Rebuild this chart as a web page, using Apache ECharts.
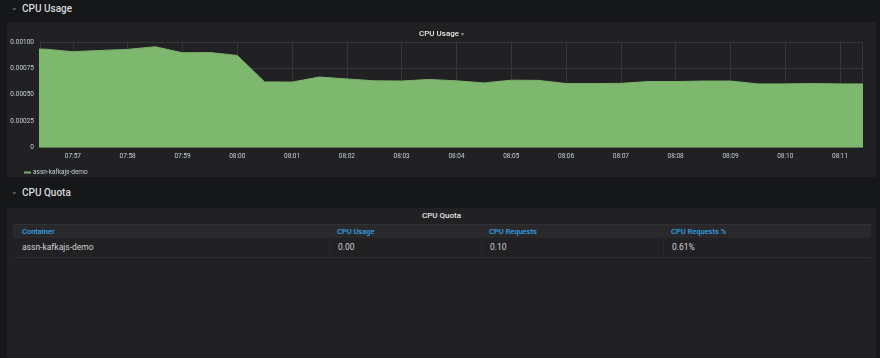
<!DOCTYPE html>
<html>
<head>
<meta charset="utf-8">
<script src="https://cdn.jsdelivr.net/npm/echarts@6/dist/echarts.min.js"></script>
<style>
  html, body { margin:0; padding:0; width:880px; height:358px; overflow:hidden; background:#161719; font-family: Roboto, "Helvetica Neue", Arial, sans-serif; }
  .row-hdr { position:absolute; left:7px; width:869px; color:#d8d9da; font-size:10px; font-weight:500; }
  .row-hdr .chev { display:inline-block; font-size:8px; color:#8e8e8e; margin-left:4px; margin-right:4px; position:relative; top:-2px; }
  .panel { position:absolute; left:7px; width:869px; background:#212124; }
  #chart { position:absolute; left:0; top:0; width:869px; height:155px; }
  .ptitle { position:absolute; left:0; width:100%; text-align:center; color:#e6e6e6; font-size:8px; font-weight:500; }
  .thead { position:absolute; left:6px; width:858px; top:16px; height:13px; background:#29292c; border-top:1px solid #303134; }
  .trow { position:absolute; left:6px; width:858px; top:30px; height:19px; border-bottom:1px solid #2c2d30; }
  .cell { position:absolute; top:0; height:100%; box-sizing:border-box; padding-left:9px; font-size:7.5px; line-height:13px; white-space:nowrap; }
  .thead .cell { color:#33a2e5; font-weight:500; }
  .trow .cell { color:#d0d1d3; font-size:8.5px; line-height:19px; border-left:1px solid #28292c; }
  .trow .cell.first { border-left:none; }
</style>
</head>
<body>
<div class="row-hdr" style="top:0;height:22px;line-height:17px;"><span class="chev">&#8964;</span>CPU Usage</div>
<div class="panel" style="top:22px;height:155px;"><div id="chart"></div></div>
<div class="row-hdr" style="top:177px;height:31px;line-height:31px;"><span class="chev">&#8964;</span>CPU Quota</div>
<div class="panel" id="p2" style="top:208px;height:150px;">
  <div class="ptitle" style="top:2px;line-height:12px;" id="tabTitle"></div>
  <div class="thead" id="thead"></div>
  <div class="trow" id="trow"></div>
</div>
<script>
// ---- data ----
var chartTitle = 'CPU Usage';
var seriesName = 'assn-kafkajs-demo';
var times = ['07:56:00','07:56:30','07:57:00','07:57:30','07:58:00','07:58:30','07:59:00','07:59:30','08:00:00','08:00:30',
             '08:01:00','08:01:30','08:02:00','08:02:30','08:03:00','08:03:30','08:04:00','08:04:30','08:05:00','08:05:30',
             '08:06:00','08:06:30','08:07:00','08:07:30','08:08:00','08:08:30','08:09:00','08:09:30','08:10:00','08:10:30',
             '08:11:00','08:11:30'];
var cpuUsage = [0.000935,0.000932,0.000908,0.00092,0.00093,0.000955,0.000898,0.0009,0.000873,0.000622,
                0.00062,0.000668,0.00065,0.000632,0.00063,0.000645,0.000632,0.000612,0.000638,0.000636,
                0.000606,0.000606,0.000608,0.000625,0.000625,0.00063,0.00063,0.000603,0.000603,0.000606,
                0.000603,0.000603];
var axisStart = '07:56:24';
var axisEnd = '08:11:24';
var yTicks = [0, 0.00025, 0.0005, 0.00075, 0.001];

var tableTitle = 'CPU Quota';
var tableColumns = ['Container', 'CPU Usage', 'CPU Requests', 'CPU Requests %'];
var tableRow = ['assn-kafkajs-demo', '0.00', '0.10', '0.61%'];
// ---------------

function ts(t) { return new Date('2019-06-01T' + t).getTime(); }
var seriesData = times.map(function (t, i) { return [ts(t), cpuUsage[i]]; });

var chart = echarts.init(document.getElementById('chart'), null, { renderer: 'canvas' });
chart.setOption({
  backgroundColor: 'transparent',
  animation: false,
  title: {
    text: chartTitle + ' {a|▾}',
    left: 'center', top: 3,
    textStyle: { color: '#e6e6e6', fontSize: 8, fontWeight: 500, fontFamily: 'Roboto',
      rich: { a: { color: '#8e8e8e', fontSize: 6 } } }
  },
  legend: {
    left: 12, top: 142, itemWidth: 7, itemHeight: 2, itemGap: 10,
    icon: 'rect',
    textStyle: { color: '#c7d0d9', fontSize: 6.5, fontFamily: 'Roboto', padding: [0, 0, 0, -3] },
    data: [seriesName]
  },
  grid: { left: 33, right: 14, top: 20, bottom: 29.5, containLabel: false },
  xAxis: {
    type: 'time',
    min: ts(axisStart), max: ts(axisEnd),
    splitNumber: 15, minInterval: 60000, maxInterval: 60000,
    axisLine: { show: false },
    axisTick: { show: false },
    axisLabel: {
      color: '#c7d0d9', fontSize: 6.5, fontFamily: 'Roboto', margin: 5, hideOverlap: false, showMinLabel: false, showMaxLabel: false,
      formatter: function (v) { var d = new Date(v); return ('0' + d.getHours()).slice(-2) + ':' + ('0' + d.getMinutes()).slice(-2); }
    },
    splitLine: { show: true, lineStyle: { color: '#343538', width: 1 } }
  },
  yAxis: {
    type: 'value', min: yTicks[0], max: yTicks[yTicks.length - 1], interval: yTicks[1] - yTicks[0],
    axisLine: { show: false }, axisTick: { show: false },
    axisLabel: { color: '#c7d0d9', fontSize: 6.5, fontFamily: 'Roboto', margin: 6,
      formatter: function (v) { return v === 0 ? '0' : v.toFixed(5); } },
    splitLine: { show: true, lineStyle: { color: '#343538', width: 1 } }
  },
  series: [{
    name: seriesName, type: 'line', data: seriesData, showSymbol: false, symbol: 'none',
    itemStyle: { color: '#7eb26d' },
    lineStyle: { color: '#7eb26d', width: 1 },
    areaStyle: { color: '#7eb86e', opacity: 1 },
    clip: true
  }]
});

// table
document.getElementById('tabTitle').textContent = tableTitle;
var colLeft = [0, 316, 468, 650];
var colWidth = [316, 152, 182, 208];
var th = document.getElementById('thead'), tr = document.getElementById('trow');
tableColumns.forEach(function (c, i) {
  var d = document.createElement('div'); d.className = 'cell';
  d.style.left = colLeft[i] + 'px'; d.style.width = colWidth[i] + 'px'; d.style.paddingLeft = (i === 0 ? 9 : 8) + 'px';
  d.textContent = c; th.appendChild(d);
});
tableRow.forEach(function (c, i) {
  var d = document.createElement('div'); d.className = 'cell' + (i === 0 ? ' first' : '');
  d.style.left = colLeft[i] + 'px'; d.style.width = colWidth[i] + 'px'; d.style.paddingLeft = (i === 0 ? 9 : 8) + 'px';
  d.textContent = c; tr.appendChild(d);
});
</script>
</body>
</html>
